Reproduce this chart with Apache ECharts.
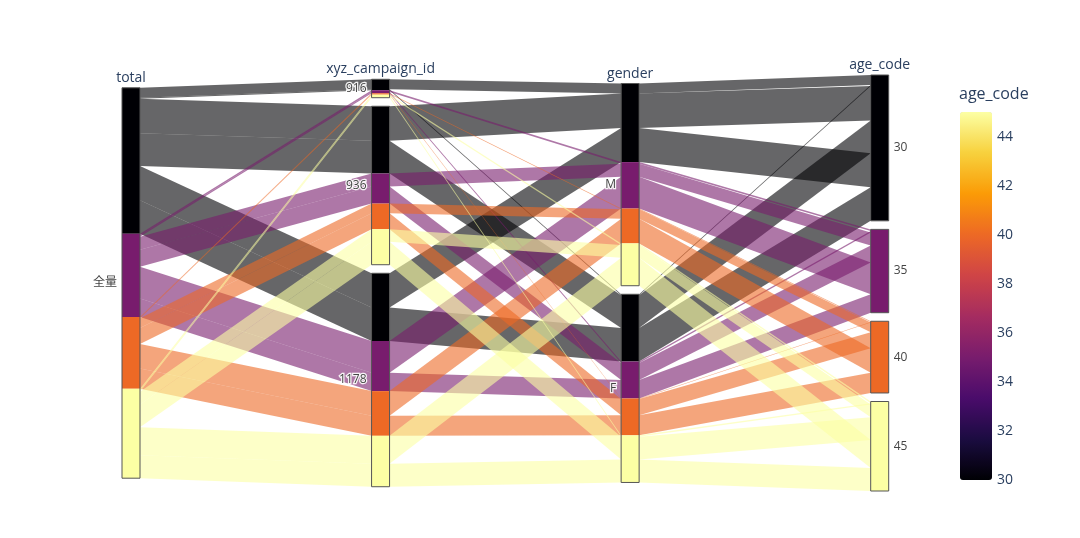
<!DOCTYPE html>
<html>
<head>
<meta charset="utf-8">
<script src="https://cdn.jsdelivr.net/npm/echarts@6/dist/echarts.min.js"></script>
<style>
html, body { margin: 0; padding: 0; background: #ffffff; }
#main { width: 1080px; height: 538px; }
</style>
</head>
<body>
<div id="main"></div>
<script>
// ---------------- data ----------------
const dimensionNames = ['total', 'xyz_campaign_id', 'gender', 'age_code'];
const totalCategories = ['全量'];
const campaignCategories = ['916', '936', '1178'];
const genderCategories = ['M', 'F'];
const ageCategories = [30, 35, 40, 45];

// row counts per age_code (30, 35, 40, 45) for each campaign / gender pair
const counts916M = [29, 5, 2, 5];
const counts916F = [3, 4, 2, 4];
const counts936M = [101, 38, 28, 37];
const counts936F = [96, 50, 47, 67];
const counts1178M = [100, 93, 72, 82];
const counts1178F = [98, 54, 59, 67];

const colorbarTitle = 'age_code';
const colorbarMin = 30;
const colorbarMax = 45;
const colorbarInterval = 2;

// ---------------- style ----------------
const infernoColors = ['#000004', '#1b0c41', '#4a0c6b', '#781c6d', '#a52c60',
  '#cf4446', '#ed6925', '#fb9b06', '#f7d13d', '#fcffa4'];
const BAR_W = 18;
const GAP = 25;
const FONT = '"Open Sans", "Noto Sans CJK SC", sans-serif';
const TEXT_COLOR = '#2a3f5f';

function hexToRgb(h) {
  return [parseInt(h.substr(1, 2), 16), parseInt(h.substr(3, 2), 16), parseInt(h.substr(5, 2), 16)];
}
function scaleColor(v) {
  let t = (v - colorbarMin) / (colorbarMax - colorbarMin);
  t = Math.max(0, Math.min(1, t));
  const pos = t * (infernoColors.length - 1);
  const i = Math.min(Math.floor(pos), infernoColors.length - 2);
  const f = pos - i;
  const a = hexToRgb(infernoColors[i]);
  const b = hexToRgb(infernoColors[i + 1]);
  const c = a.map((x, k) => Math.round(x + (b[k] - x) * f));
  return 'rgb(' + c.join(',') + ')';
}

// ---------------- parcats layout ----------------
const cellCounts = [[counts916M, counts916F], [counts936M, counts936F], [counts1178M, counts1178F]];
const dimCategories = [totalCategories, campaignCategories, genderCategories, ageCategories];
const paths = [];
campaignCategories.forEach((c, ci) => {
  genderCategories.forEach((g, gi) => {
    ageCategories.forEach((a, ai) => {
      const n = cellCounts[ci][gi][ai];
      if (n > 0) paths.push({ cats: [0, ci, gi, ai], n: n, age: a });
    });
  });
});
// sort by colour first, then by categories left to right
paths.sort((p, q) => (p.age - q.age) || (p.cats[0] - q.cats[0]) || (p.cats[1] - q.cats[1]) || (p.cats[2] - q.cats[2]) || (p.cats[3] - q.cats[3]));

const grandTotal = paths.reduce((s, p) => s + p.n, 0);
const maxCats = Math.max.apply(null, dimCategories.map(c => c.length));
const yMax = grandTotal + (maxCats - 1) * GAP;
const catSizes = dimCategories.map((cats, d) => cats.map((_, k) =>
  paths.filter(p => p.cats[d] === k).reduce((s, p) => s + p.n, 0)));
const catTops = catSizes.map(sizes => {
  const span = grandTotal + (sizes.length - 1) * GAP;
  let y = (yMax - span) / 2;
  return sizes.map(s => { const t = y; y += s + GAP; return t; });
});
const nextY = catTops.map(a => a.slice());
paths.forEach(p => {
  p.y = p.cats.map((k, d) => { const t = nextY[d][k]; nextY[d][k] += p.n; return t; });
});

const linkData = [];
paths.forEach(p => {
  for (let d = 0; d < dimCategories.length - 1; d++) linkData.push([d, p.y[d], p.y[d + 1], p.n, p.age]);
});
// colour bands inside each category bar: merge consecutive paths of the same colour
const bandData = [];
dimCategories.forEach((cats, d) => {
  cats.forEach((_, k) => {
    let run = null;
    paths.filter(p => p.cats[d] === k).forEach(p => {
      if (run && run[3] === p.age) { run[2] += p.n; }
      else { run = [d, p.y[d], p.n, p.age]; bandData.push(run); }
    });
  });
});
const catData = [];
dimCategories.forEach((cats, d) => cats.forEach((_, k) => catData.push([d, catTops[d][k], catSizes[d][k], k])));

// ---------------- renderers ----------------
function renderLink(params, api) {
  const d = api.value(0), n = api.value(3);
  const a = api.coord([d, api.value(1)]);
  const a2 = api.coord([d, api.value(1) + n]);
  const b = api.coord([d + 1, api.value(2)]);
  const b2 = api.coord([d + 1, api.value(2) + n]);
  const hw = BAR_W / 2;
  return {
    type: 'polygon',
    shape: { points: [[a[0] + hw, a[1]], [b[0] - hw, b[1]], [b2[0] - hw, b2[1]], [a2[0] + hw, a2[1]]] },
    style: { fill: scaleColor(api.value(4)), opacity: 0.6 }
  };
}
function renderBand(params, api) {
  const d = api.value(0);
  const p0 = api.coord([d, api.value(1)]);
  const p1 = api.coord([d, api.value(1) + api.value(2)]);
  return {
    type: 'rect',
    shape: { x: p0[0] - BAR_W / 2, y: p0[1], width: BAR_W, height: p1[1] - p0[1] },
    style: { fill: scaleColor(api.value(3)) }
  };
}
function renderCat(params, api) {
  const d = api.value(0), k = api.value(3);
  const p0 = api.coord([d, api.value(1)]);
  const p1 = api.coord([d, api.value(1) + api.value(2)]);
  const last = d === dimCategories.length - 1;
  const label = String(dimCategories[d][k]);
  const lx = last ? p0[0] + BAR_W / 2 + 5 : p0[0] - BAR_W / 2 - 5;
  const ly = (p0[1] + p1[1]) / 2;
  const align = last ? 'left' : 'right';
  const children = [{
    type: 'rect',
    shape: { x: p0[0] - BAR_W / 2, y: p0[1], width: BAR_W, height: p1[1] - p0[1] },
    style: { fill: null, stroke: '#555', lineWidth: 1 }
  }, {
    type: 'text',
    style: {
      text: label, x: lx, y: ly, textAlign: align, textVerticalAlign: 'middle',
      fill: 'rgba(255,255,255,0.9)', stroke: 'rgba(255,255,255,0.9)', lineWidth: 2.5,
      font: '12px ' + FONT
    }
  }, {
    type: 'text',
    style: {
      text: label, x: lx, y: ly, textAlign: align, textVerticalAlign: 'middle',
      fill: '#444', font: '12px ' + FONT
    }
  }];
  if (k === 0) {
    children.push({
      type: 'text',
      style: {
        text: dimensionNames[d],
        x: p0[0],
        y: p0[1] - 3,
        textAlign: 'center',
        textVerticalAlign: 'bottom',
        fill: TEXT_COLOR,
        font: '14px ' + FONT
      }
    });
  }
  return { type: 'group', children: children };
}

// ---------------- chart ----------------
const chart = echarts.init(document.getElementById('main'), null, { renderer: 'canvas' });
chart.setOption({
  animation: false,
  backgroundColor: '#ffffff',
  textStyle: { fontFamily: FONT },
  title: {
    text: colorbarTitle, left: 959, top: 86, padding: 0,
    textStyle: { fontSize: 16, fontWeight: 'normal', color: TEXT_COLOR, fontFamily: FONT }
  },
  grid: [
    { left: 131, top: 75, width: 748.7, height: 416 },
    { left: 960, top: 112, width: 32, height: 368 }
  ],
  xAxis: [
    { type: 'value', min: 0, max: dimCategories.length - 1, show: false },
    { type: 'value', gridIndex: 1, min: 0, max: 1, show: false }
  ],
  yAxis: [
    { type: 'value', min: 0, max: yMax, inverse: true, show: false },
    {
      type: 'value', gridIndex: 1, position: 'right', min: colorbarMin, max: colorbarMax, interval: colorbarInterval,
      axisLine: { show: false }, axisTick: { show: false }, splitLine: { show: false },
      axisLabel: { showMaxLabel: false, color: TEXT_COLOR, fontSize: 14, margin: 5, fontFamily: FONT }
    }
  ],
  visualMap: {
    type: 'continuous', min: colorbarMin, max: colorbarMax, calculable: false, orient: 'vertical',
    left: 960, top: 112, itemWidth: 32, itemHeight: 368, padding: 0, text: null, hoverLink: false,
    inRange: { color: infernoColors }, seriesIndex: [3]
  },
  series: [
    { type: 'custom', name: 'links', silent: true, renderItem: renderLink, data: linkData, z: 1 },
    { type: 'custom', name: 'bands', silent: true, renderItem: renderBand, data: bandData, z: 2 },
    { type: 'custom', name: 'categories', silent: true, renderItem: renderCat, data: catData, z: 3 },
    { type: 'scatter', xAxisIndex: 1, yAxisIndex: 1, data: [] }
  ]
});
</script>
</body>
</html>
